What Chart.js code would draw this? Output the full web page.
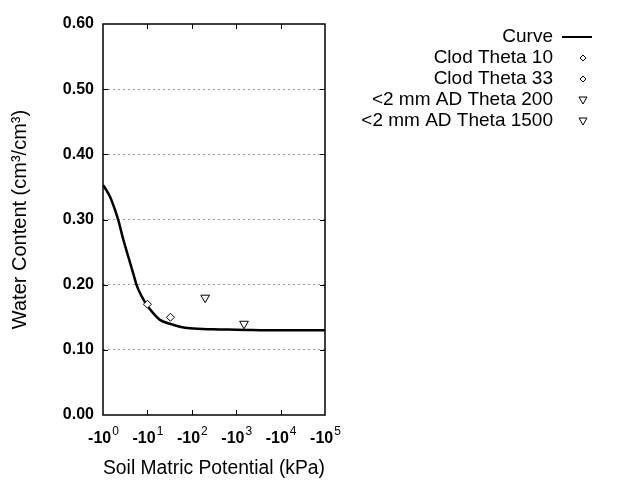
<!DOCTYPE html>
<html>
<head>
<meta charset="utf-8">
<script src="https://cdn.jsdelivr.net/npm/chart.js/dist/chart.umd.min.js"></script>
<style>
    html, body { margin: 0; padding: 0; background: #fff; }
    #wrap { width: 640px; height: 480px; }
</style>
</head>
<body>
<div id="wrap"><canvas id="myChart"></canvas></div>
<script>
    // Datos
    const curveX = [1, 1.05, 1.44, 1.86, 2.21, 2.87, 3.71, 4.81, 5.74, 7.44, 9.64, 12.5, 19.2, 32.3, 54.2, 91, 300, 1000, 10000, 100000];
    const curveY = [0.353, 0.351, 0.335, 0.315, 0.299, 0.269, 0.243, 0.217, 0.199, 0.182, 0.169, 0.159, 0.146, 0.140, 0.1355, 0.133, 0.1315, 0.131, 0.130, 0.130];

    const clodX = [10, 33];
    const clodY = [0.17, 0.15];
    const adX = [200, 1500];
    const adY = [0.18, 0.14];

    const xTicks = [1, 10, 100, 1000, 10000, 100000];
    const xTickBase = '-10';
    const xTickExp = ['0', '1', '2', '3', '4', '5'];
    const yTicks = [0, 0.1, 0.2, 0.3, 0.4, 0.5, 0.6];

    const legendNames = ['Curve', 'Clod Theta 10', 'Clod Theta 33', '<2 mm AD Theta 200', '<2 mm AD Theta 1500'];

    const FONT = "'Liberation Sans', Arial, sans-serif";
    Chart.defaults.font.family = FONT;
    Chart.defaults.color = '#000';

    const pts = (xs, ys) => xs.map((x, i) => ({ x: x, y: ys[i] }));

    // Marcas interiores, etiquetas del eje x y leyenda propia
    const framePlugin = {
        id: 'frame',
        afterDraw(chart) {
            const c = chart.ctx;
            const a = chart.chartArea;
            const xs = chart.scales.x, ys = chart.scales.y;
            c.save();
            c.strokeStyle = '#000';
            c.lineWidth = 1.5;
            c.strokeRect(a.left, a.top, a.right - a.left, a.bottom - a.top);
            c.lineWidth = 1;
            c.beginPath();
            xTicks.slice(1, -1).forEach(v => {
                const px = Math.round(xs.getPixelForValue(v)) + 0.5;
                c.moveTo(px, a.bottom); c.lineTo(px, a.bottom - 5);
                c.moveTo(px, a.top); c.lineTo(px, a.top + 5);
            });
            yTicks.slice(1, -1).forEach(v => {
                const py = Math.round(ys.getPixelForValue(v)) + 0.5;
                c.moveTo(a.left, py); c.lineTo(a.left + 5, py);
                c.moveTo(a.right, py); c.lineTo(a.right - 5, py);
            });
            c.stroke();

            // Etiquetas del eje x con exponente
            c.fillStyle = '#000';
            c.textBaseline = 'alphabetic';
            xTicks.forEach((v, i) => {
                const px = xs.getPixelForValue(v);
                c.font = 'bold 16px ' + FONT;
                const wb = c.measureText(xTickBase).width;
                c.font = '12px ' + FONT;
                const we = c.measureText(xTickExp[i]).width;
                const x0 = px - (wb + we) / 2;
                c.textAlign = 'left';
                c.font = 'bold 16px ' + FONT;
                c.fillText(xTickBase, x0, 443);
                c.font = '12px ' + FONT;
                c.fillText(xTickExp[i], x0 + wb + 1, 435);
            });

            // Leyenda
            c.font = '19px ' + FONT;
            c.textAlign = 'right';
            c.textBaseline = 'middle';
            const rowY = [37, 58, 79, 100, 121];
            legendNames.forEach((name, i) => {
                c.fillText(name, 553, rowY[i]);
            });
            c.lineWidth = 2;
            c.beginPath();
            c.moveTo(562, rowY[0]); c.lineTo(592, rowY[0]);
            c.stroke();
            c.lineWidth = 1;
            [1, 2].forEach(i => {
                const y = rowY[i], x = 583, r = 3;
                c.beginPath();
                c.moveTo(x, y - r); c.lineTo(x + r, y); c.lineTo(x, y + r); c.lineTo(x - r, y); c.closePath();
                c.stroke();
            });
            [3, 4].forEach(i => {
                const y = rowY[i], x = 583;
                c.beginPath();
                c.moveTo(x - 4, y - 3); c.lineTo(x + 4, y - 3); c.lineTo(x, y + 4); c.closePath();
                c.stroke();
            });
            c.restore();
        }
    };

    const ctx = document.getElementById('myChart').getContext('2d');
    const myChart = new Chart(ctx, {
        type: 'scatter',
        data: {
            datasets: [
                {
                    label: 'Curve',
                    data: pts(curveX, curveY),
                    showLine: true,
                    borderColor: '#000',
                    borderWidth: 2.5,
                    pointRadius: 0,
                    cubicInterpolationMode: 'monotone',
                    order: 2
                },
                {
                    label: 'Clod',
                    data: pts(clodX, clodY),
                    pointStyle: 'rectRot',
                    pointRadius: 4,
                    borderColor: '#000',
                    backgroundColor: '#fff',
                    borderWidth: 1,
                    order: 1
                },
                {
                    label: 'AD',
                    data: pts(adX, adY),
                    pointStyle: 'triangle',
                    rotation: 180,
                    pointRadius: 5,
                    borderColor: '#000',
                    backgroundColor: '#fff',
                    borderWidth: 1,
                    order: 1
                }
            ]
        },
        plugins: [framePlugin],
        options: {
            responsive: true,
            maintainAspectRatio: false,
            animation: false,
            layout: { padding: { left: 0, top: 24, right: 315, bottom: 0 } },
            plugins: {
                legend: { display: false },
                tooltip: { enabled: false }
            },
            scales: {
                x: {
                    type: 'logarithmic',
                    min: 1,
                    max: 100000,
                    afterBuildTicks: (scale) => { scale.ticks = xTicks.map(v => ({ value: v })); },
                    afterFit: (scale) => { scale.height = 65; },
                    ticks: { display: false },
                    grid: { display: false, drawTicks: false },
                    border: { display: false },
                    title: {
                        display: true,
                        text: 'Soil Matric Potential (kPa)',
                        font: { size: 20 },
                        padding: { top: 4, bottom: 0 }
                    }
                },
                y: {
                    min: 0,
                    max: 0.6,
                    afterBuildTicks: (scale) => { scale.ticks = yTicks.map(v => ({ value: v })); },
                    afterFit: (scale) => { scale.width = 103; },
                    ticks: {
                        padding: 9,
                        font: { size: 16, weight: 'bold' },
                        callback: (v) => v.toFixed(2)
                    },
                    grid: {
                        drawTicks: false,
                        color: (c) => (c.tick.value > 0 && c.tick.value < 0.6) ? '#999' : 'rgba(0,0,0,0)',
                        lineWidth: 1
                    },
                    border: { display: false, dash: [2, 3] },
                    title: {
                        display: true,
                        text: 'Water Content (cm\u00b3/cm\u00b3)',
                        font: { size: 20 },
                        padding: { top: 8, bottom: 10 }
                    }
                }
            }
        }
    });
</script>
</body>
</html>
